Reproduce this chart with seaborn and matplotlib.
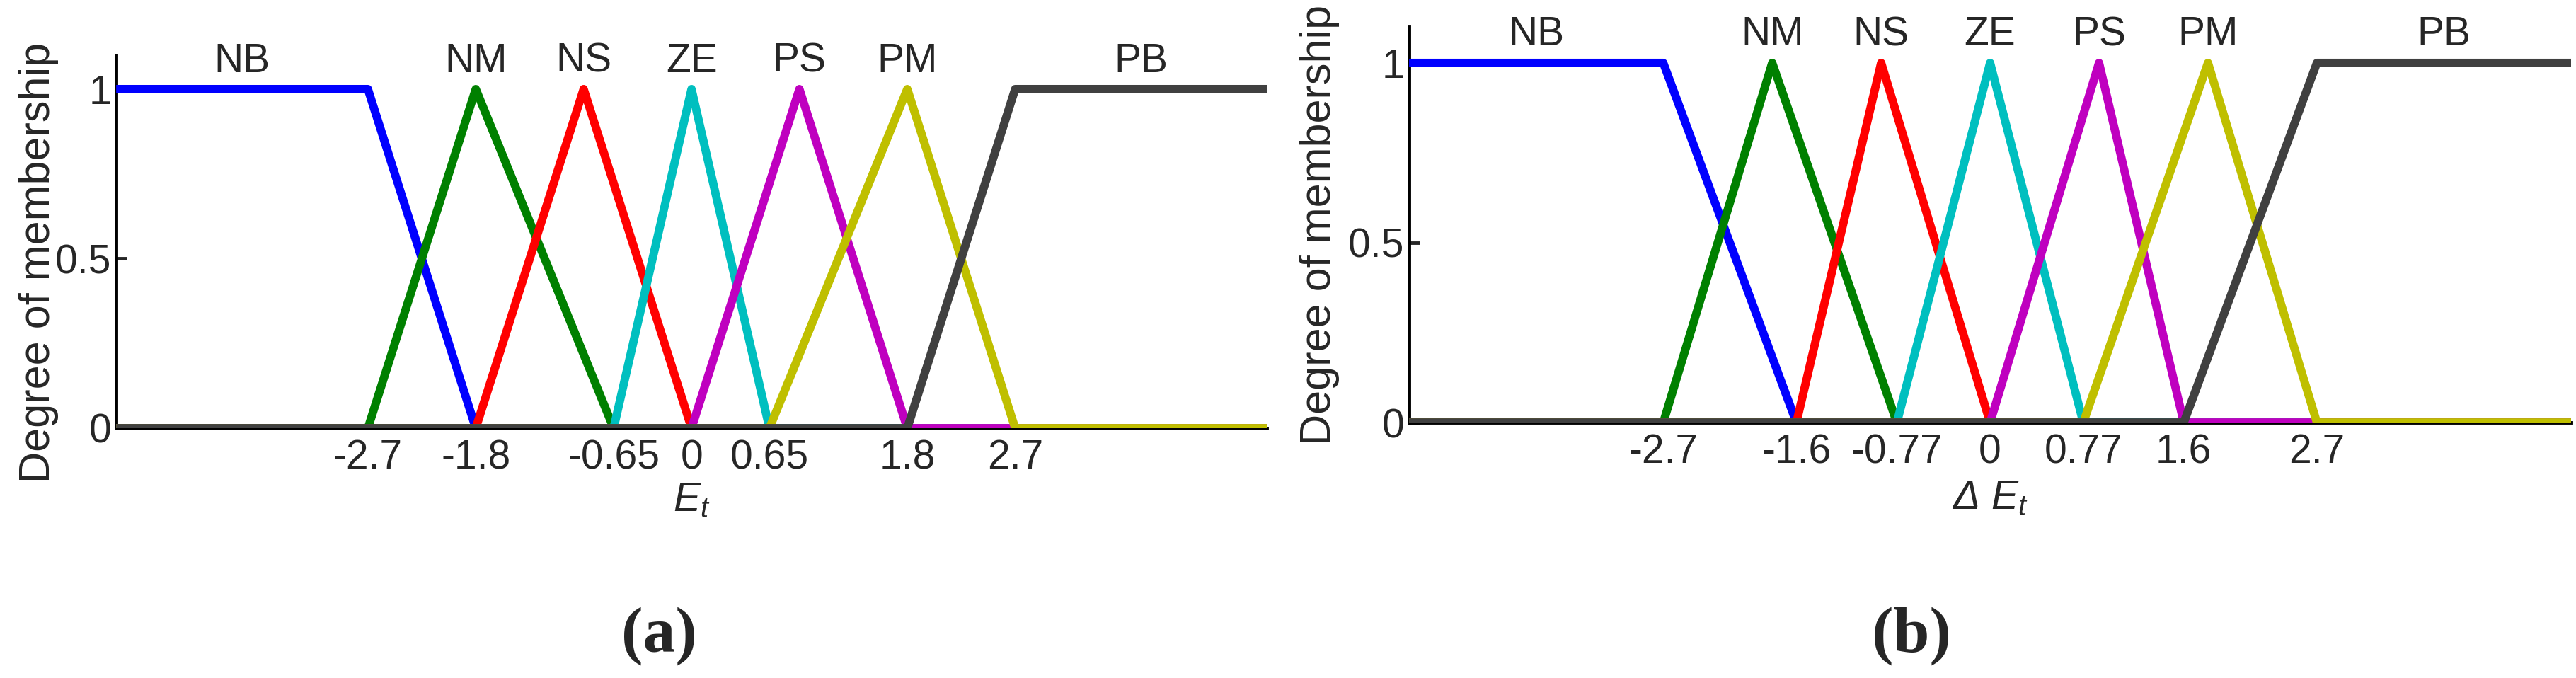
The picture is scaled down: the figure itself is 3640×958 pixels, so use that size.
import matplotlib
matplotlib.use("Agg")
import pandas as pd
import matplotlib.pyplot as plt
import seaborn as sns

TERMS = ["NB", "NM", "NS", "ZE", "PS", "PM", "PB"]
COLORS = ["#0000ff", "#008000", "#ff0000", "#00bfbf", "#bf00bf", "#bfbf00", "#404040"]

# panel (a): E_t
E_LIMITS = [-4.8, 4.8]
E_TICKS = [-2.7, -1.8, -0.65, 0, 0.65, 1.8, 2.7]
E_TICK_LABELS = ["-2.7", "-1.8", "-0.65", "0", "0.65", "1.8", "2.7"]
E_X = [
    [-4.8, -2.7, -1.8, 4.8],
    [-4.8, -2.7, -1.8, -0.65, 4.8],
    [-4.8, -1.8, -0.9, 0, 4.8],
    [-4.8, -0.65, 0, 0.65, 4.8],
    [-4.8, 0, 0.9, 1.8, 4.8],
    [-4.8, 0.65, 1.8, 2.7, 4.8],
    [-4.8, 1.8, 2.7, 4.8],
]
E_MU = [
    [1, 1, 0, 0],
    [0, 0, 1, 0, 0],
    [0, 0, 1, 0, 0],
    [0, 0, 1, 0, 0],
    [0, 0, 1, 0, 0],
    [0, 0, 1, 0, 0],
    [0, 0, 1, 1],
]

# panel (b): delta E_t
DE_LIMITS = [-4.8, 4.8]
DE_TICKS = [-2.7, -1.6, -0.77, 0, 0.77, 1.6, 2.7]
DE_TICK_LABELS = ["-2.7", "-1.6", "-0.77", "0", "0.77", "1.6", "2.7"]
DE_X = [
    [-4.8, -2.7, -1.6, 4.8],
    [-4.8, -2.7, -1.8, -0.77, 4.8],
    [-4.8, -1.6, -0.9, 0, 4.8],
    [-4.8, -0.77, 0, 0.77, 4.8],
    [-4.8, 0, 0.9, 1.6, 4.8],
    [-4.8, 0.77, 1.8, 2.7, 4.8],
    [-4.8, 1.6, 2.7, 4.8],
]
DE_MU = E_MU

sns.set_style("ticks")
plt.rcParams["font.family"] = ["Liberation Sans", "DejaVu Sans"]
plt.rcParams["mathtext.fontset"] = "custom"
plt.rcParams["mathtext.it"] = "Liberation Sans:italic"
plt.rcParams["mathtext.rm"] = "Liberation Sans"
plt.rcParams["lines.solid_capstyle"] = "butt"


def build_frame(xs, mus):
    rows = []
    for term, x_pts, mu_pts in zip(TERMS, xs, mus):
        for x, mu in zip(x_pts, mu_pts):
            rows.append({"term": term, "x": x, "mu": mu})
    return pd.DataFrame(rows)


def draw_panel(ax, xs, mus, limits, ticks, tick_labels, xlabel, ylabel_x, ylabel_y, xlabel_y):
    df = build_frame(xs, mus)
    sns.lineplot(data=df, x="x", y="mu", hue="term", hue_order=TERMS, palette=COLORS,
                 estimator=None, sort=False, lw=8.5, legend=False, ax=ax)
    for line in ax.lines:
        line.set_zorder(3)

    # term names above the top of each membership function
    for term, x_pts, mu_pts in zip(TERMS, xs, mus):
        top = [x for x, mu in zip(x_pts, mu_pts) if mu == 1]
        ax.text(sum(top) / len(top), 1.025, term, ha="center", va="bottom", fontsize=41)

    ax.set_xlim(limits)
    ax.set_ylim(0, 1.1)
    ax.set_xticks(ticks)
    ax.set_xticklabels(tick_labels)
    ax.set_yticks([0, 0.5, 1])
    ax.set_yticklabels(["0", "0.5", "1"])
    ax.tick_params(axis="x", length=0, pad=11, labelsize=41)
    ax.tick_params(axis="y", direction="in", length=11, width=3.5, pad=5, labelsize=41)
    sns.despine(ax=ax)
    for side in ["left", "bottom"]:
        ax.spines[side].set_linewidth(3.5)
        ax.spines[side].set_color("black")

    ax.set_ylabel("Degree of membership", fontsize=44)
    ax.yaxis.set_label_coords(ylabel_x, ylabel_y)
    ax.set_xlabel(xlabel, fontsize=41, fontstyle="italic", va="top")
    ax.xaxis.set_label_coords(0.5, xlabel_y)


fig = plt.figure(figsize=(36.4, 9.58), dpi=100)
ax_a = fig.add_axes([0.0451, 0.3685, 0.4467, 0.5501])
ax_b = fig.add_axes([0.5470, 0.3768, 0.4511, 0.5835])

draw_panel(ax_a, E_X, E_MU, E_LIMITS, E_TICKS, E_TICK_LABELS,
           r"$E_t$", -0.050, 0.444, -0.142)
draw_panel(ax_b, DE_X, DE_MU, DE_LIMITS, DE_TICKS, DE_TICK_LABELS,
           "\u0394 $E_t$", -0.060, 0.5, -0.143)

fig.text(0.256, 0.0616, "(a)", ha="center", va="center", fontsize=66,
         fontweight="bold", family="Liberation Serif")
fig.text(0.742, 0.0616, "(b)", ha="center", va="center", fontsize=66,
         fontweight="bold", family="Liberation Serif")

fig.savefig("out.png", dpi=100)
